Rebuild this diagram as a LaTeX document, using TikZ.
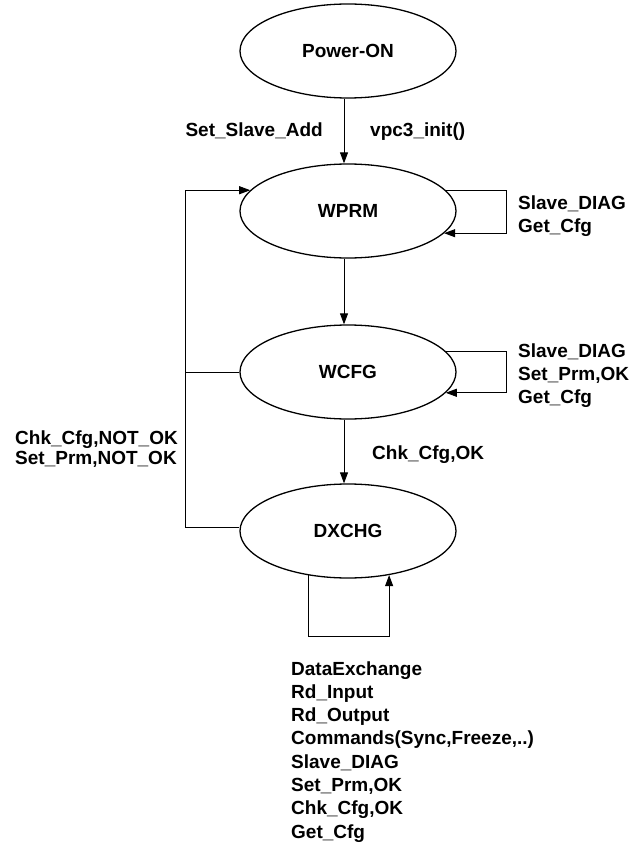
\documentclass[tikz,border=0pt]{standalone}
\usepackage{fontspec}
\setmainfont{Liberation Sans}
\usetikzlibrary{shapes.geometric,arrows.meta}
\begin{document}
\begin{tikzpicture}[x=1pt,y=-1pt,
  state/.style={ellipse,draw,line width=1.3pt,minimum width=216pt,minimum height=94pt,inner sep=0pt,font=\fontsize{19}{23.3}\selectfont\bfseries},
  lbl/.style={inner sep=0pt,font=\fontsize{19}{23.3}\selectfont\bfseries},
  conn/.style={line width=0.9pt},
  arr/.style={conn,-{Triangle[length=11pt,width=8pt]}}]
\useasboundingbox (0,0) rectangle (633,845);
% states
\node[state] (pon) at (348,51) {Power-ON};
\node[state] (wprm) at (348,211) {WPRM};
\node[state] (wcfg) at (348,372) {WCFG};
\node[state] (dx) at (348,531) {DXCHG};
% helper coordinates
\coordinate (rail) at (185,0);
\coordinate (rloop) at (506,0);
% main flow
\draw[arr] ([xshift=-4pt]pon.south) -- ([xshift=-4pt]wprm.north);
\draw[arr] ([xshift=-4pt]wprm.south) -- ([xshift=-4pt]wcfg.north);
\draw[arr] ([xshift=-4pt]wcfg.south) -- ([xshift=-4pt]dx.north);
% feedback to WPRM
\draw[arr] ([yshift=4pt]dx.west) -- ([yshift=4pt]dx.west -| rail) -- (rail |- wprm.168) -- (wprm.168);
\draw[conn] (wcfg.west) -- (wcfg.west -| rail);
% self loops
\draw[arr] (wprm.12) -- (wprm.12 -| rloop) -- (rloop |- wprm.-13) -- (wprm.-13);
\draw[arr] (wcfg.12) -- (wcfg.12 -| rloop) -- (rloop |- wcfg.-12) -- (wcfg.-12);
\draw[arr] (dx.228) -- ++(0,61) -| (dx.313);
% labels
\node[lbl,anchor=base east] (l1) at (323,137) {Set\_Slave\_Add};
\node[lbl,anchor=base west] (l2) at (370,137) {vpc3\_init()};
\node[lbl,anchor=base west] (l3) at (518,209) {\begin{tabular}[t]{@{}l@{}}Slave\_DIAG\\Get\_Cfg\end{tabular}};
\node[lbl,anchor=base west] (l4) at (518,357) {\begin{tabular}[t]{@{}l@{}}Slave\_DIAG\\Set\_Prm,OK\\Get\_Cfg\end{tabular}};
\node[lbl,anchor=base west] (l5) at (372,459) {Chk\_Cfg,OK};
\node[lbl,anchor=base west,font=\fontsize{19}{20.5}\selectfont\bfseries] (l6) at (15,444) {\begin{tabular}[t]{@{}l@{}}Chk\_Cfg,NOT\_OK\\Set\_Prm,NOT\_OK\end{tabular}};
\node[lbl,anchor=base west] (l7) at (291,675) {\begin{tabular}[t]{@{}l@{}}DataExchange\\Rd\_Input\\Rd\_Output\\Commands(Sync,Freeze,..)\\Slave\_DIAG\\Set\_Prm,OK\\Chk\_Cfg,OK\\Get\_Cfg\end{tabular}};
\end{tikzpicture}
\end{document}
